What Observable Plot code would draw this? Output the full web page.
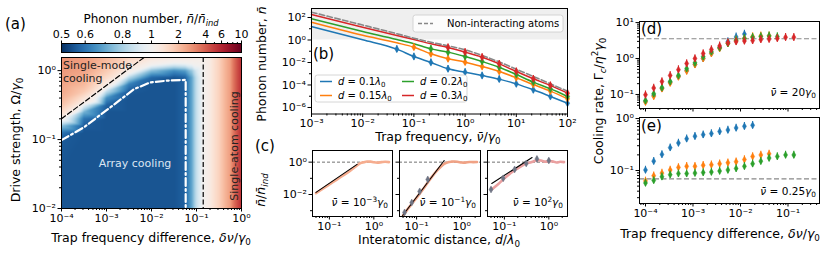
<!DOCTYPE html>
<html><head><meta charset="utf-8">
<script src="https://cdn.jsdelivr.net/npm/d3@7"></script>
<script src="https://cdn.jsdelivr.net/npm/@observablehq/plot@0.6"></script>
<style>
body{margin:0;background:#fff;}
#fig{position:relative;width:831px;height:255px;overflow:hidden;background:#fff;font-family:"DejaVu Sans",sans-serif;}
#fig svg{position:absolute;left:0;top:0;overflow:visible;}
</style></head><body><div id="fig"></div>
<script>
const W = 831, H = 255, FONT = "DejaVu Sans";
const COL = {blue: "#1f77b4", orange: "#ff7f0e", green: "#2ca02c", red: "#d62728", gray: "#888888"};

// ================= Panel (a): phonon number map =================
const aDnu = [1e-4, 3.16e-4, 1e-3, 3.16e-3, 0.01, 0.0316, 0.0562, 0.0794, 0.1, 0.141, 0.2, 0.316, 0.562, 1];
const aOmega = [0.01, 0.0316, 0.1, 0.126, 0.158, 0.2, 0.251, 0.316, 0.398, 0.501, 0.631, 0.794, 1, 1.26, 1.55];
const aRatio = [
  [0.55,0.55,0.55,0.55,0.55,0.55,0.57,0.70,0.85,1.00,1.2,1.65,2.6,5.5],
  [0.55,0.55,0.55,0.55,0.55,0.55,0.57,0.70,0.85,1.00,1.2,1.65,2.6,5.5],
  [0.56,0.55,0.55,0.55,0.55,0.55,0.57,0.70,0.85,1.00,1.2,1.65,2.6,5.5],
  [0.60,0.55,0.55,0.55,0.55,0.55,0.57,0.70,0.85,1.00,1.2,1.65,2.6,5.5],
  [0.75,0.56,0.55,0.55,0.55,0.55,0.57,0.70,0.85,1.00,1.2,1.65,2.6,5.5],
  [1.05,0.60,0.55,0.55,0.55,0.55,0.57,0.70,0.85,1.00,1.2,1.65,2.6,5.5],
  [1.50,0.72,0.55,0.55,0.55,0.55,0.57,0.70,0.85,1.00,1.2,1.65,2.6,5.5],
  [1.90,0.95,0.57,0.55,0.55,0.55,0.57,0.70,0.85,1.00,1.2,1.65,2.6,5.5],
  [2.20,1.35,0.65,0.55,0.55,0.55,0.57,0.70,0.85,1.00,1.2,1.65,2.6,5.5],
  [2.40,1.80,0.85,0.56,0.55,0.55,0.57,0.70,0.85,1.00,1.2,1.65,2.6,5.5],
  [2.50,2.10,1.15,0.62,0.55,0.55,0.57,0.70,0.85,1.00,1.2,1.65,2.6,5.5],
  [2.60,2.30,1.50,0.82,0.58,0.55,0.57,0.70,0.85,1.00,1.2,1.65,2.6,5.5],
  [2.70,2.50,1.80,1.10,0.75,0.65,0.68,0.78,0.90,1.00,1.2,1.65,2.6,5.5],
  [2.80,2.60,2.00,1.40,1.05,0.95,0.97,1.00,1.02,1.05,1.2,1.65,2.6,5.5],
  [2.80,2.60,2.10,1.60,1.30,1.20,1.20,1.15,1.12,1.10,1.2,1.65,2.6,5.5]
];
const aBoundaryDnu = [1e-4, 3.16e-4, 1.23e-3, 4.07e-3, 9.5e-3, 0.0224, 0.0575, 0.0575];
const aBoundaryOmega = [0.098, 0.151, 0.295, 0.537, 0.676, 0.716, 0.733, 0.01];
const aSingleModeDnu = [1e-4, 6.8e-3];
const aSingleModeOmega = [0.2, 1.55];
const aSingleAtomDnu = 0.141;
const cbTicks = [0.5, 0.6, 0.8, 1, 2, 4, 6, 10];
const cbMinor = [0.7, 0.9, 3, 5, 7, 8, 9];

// ================= Panel (b): phonon number vs trap frequency =================
const bFreq = [1e-3, 1e-2, 0.0464, 0.1, 0.215, 0.464, 1, 2.15, 4.64, 10, 21.5, 46.4, 100];
const bLogFree = [2.47, 1.33, 0.56, 0.16, -0.2, -0.52, -0.87, -1.38, -1.95, -2.6, -3.24, -3.9, -4.55];
const bLogD010 = [1.2, 0.02, -0.81, -1.47, -2.0, -2.56, -2.86, -3.16, -3.48, -3.9, -4.43, -5.02, -5.62];
const bLogD015 = [1.58, 0.42, -0.25, -0.64, -1.23, -1.67, -1.97, -2.36, -2.8, -3.36, -3.96, -4.55, -5.23];
const bLogD020 = [1.88, 0.76, 0.05, -0.33, -0.79, -1.08, -1.47, -1.91, -2.42, -3.07, -3.75, -4.34, -5.02];
const bLogD030 = [2.27, 1.13, 0.4, 0.04, -0.34, -0.66, -1.08, -1.53, -2.12, -2.8, -3.45, -4.04, -4.73];
const bLabels = ["0.1", "0.15", "0.2", "0.3"];
const bMarkFrom = [0.0464, 0.1, 0.215, 0.464];
const bShadeAbove = 1;

// ================= Panel (c): ratio vs distance =================
const cDist = [0.05, 0.07, 0.1, 0.15, 0.2, 0.3, 0.4, 0.5, 0.6, 0.7, 0.85, 1.0, 1.2, 1.5, 1.8, 2.2];
const cLogSim1 = [-1.92, -1.66, -1.38, -1.06, -0.84, -0.52, -0.25, -0.06, 0.0, 0.04, 0.03, -0.01, -0.03, 0.0, 0.02, 0.0];
const cLogSim2 = [-3.3, -2.75, -2.2, -1.55, -1.05, -0.45, -0.12, 0.0, 0.03, 0.04, 0.01, -0.02, -0.03, 0.01, 0.0, 0.01];
const cLogSim3 = [-1.72, -1.4, -1.0, -0.6, -0.38, -0.1, 0.0, 0.08, 0.12, 0.08, 0.03, 0.06, 0.05, -0.02, 0.02, 0.0];
const cFitDist = [[0.05, 0.42], [0.049, 0.41], [0.052, 0.42]];
const cFitLog = [[-1.87, -0.14], [-3.3, 0.1], [-1.32, 0.29]];
const cMarkDist2 = [0.054, 0.078, 0.117, 0.177];
const cMarkLog2 = [-3.11, -2.5, -1.81, -1.07];
const cMarkDist3 = [0.05, 0.094, 0.17, 0.31, 0.54, 1.0];
const cMarkLog3 = [-1.69, -1.0, -0.45, -0.08, 0.2, 0.1];
const cNuLabels = [["−3"], ["−1"], ["2"]];

// ================= Panels (d), (e): cooling rate =================
const deDnu = [1.0e-4, 1.49e-4, 2.22e-4, 3.31e-4, 4.94e-4, 7.36e-4, 1.10e-3, 1.64e-3, 2.44e-3, 3.64e-3,
               5.43e-3, 8.09e-3, 1.21e-2, 1.80e-2, 2.68e-2, 4.0e-2, 5.96e-2, 8.89e-2, 0.1326];
const dLogBlue = [-1.19, -1.02, -0.83, -0.66, -0.5, -0.33, -0.16, 0.0, 0.15, 0.3, 0.47, 0.6, 0.68];
const dLogOrange = [-1.21, -1.05, -0.84, -0.68, -0.51, -0.35, -0.17, 0.0, 0.14, 0.28, 0.42, 0.51, 0.56, 0.61, 0.63, 0.63];
const dLogGreen = [-1.17, -0.98, -0.81, -0.64, -0.47, -0.28, -0.12, 0.05, 0.19, 0.3, 0.42, 0.51, 0.56, 0.59, 0.61, 0.63, 0.61];
const dLogRed = [-1.01, -0.82, -0.64, -0.47, -0.31, -0.14, 0.0, 0.14, 0.25, 0.35, 0.44, 0.47, 0.49, 0.5, 0.53, 0.54, 0.56, 0.59, 0.59];
const dLevel = 3.55;
const eLogBlue = [-0.99, -0.82, -0.69, -0.56, -0.47, -0.39, -0.34, -0.31, -0.29, -0.25, -0.22, -0.18, -0.15, -0.13];
const eLogOrange = [-1.2, -1.1, -1.05, -0.99, -0.94, -0.92, -0.92, -0.9, -0.89, -0.87, -0.85, -0.83, -0.79, -0.73, -0.7, -0.68];
const eLogGreen = [-1.24, -1.19, -1.12, -1.08, -1.06, -1.06, -1.05, -1.04, -1.03, -1.01, -0.99, -0.96, -0.92, -0.87, -0.82, -0.76, -0.73, -0.7, -0.7];
const eLevel = 0.069;

// ================= helpers =================
const SUP = {"-": "⁻", "0": "⁰", "1": "¹", "2": "²", "3": "³", "4": "⁴", "5": "⁵", "6": "⁶", "7": "⁷", "8": "⁸", "9": "⁹"};
const pow10 = v => "10" + String(Math.round(Math.log10(v))).split("").map(c => SUP[c]).join("");
const blank = () => "";
function decades(lo, hi, step = 1) { const o = []; for (let e = Math.ceil(Math.log10(lo) - 1e-9); e <= Math.log10(hi) + 1e-9; e += step) o.push(10 ** e); return o; }
function minors(lo, hi) { const o = []; for (let e = Math.floor(Math.log10(lo)); e <= Math.ceil(Math.log10(hi)); e++) for (let m = 2; m <= 9; m++) { const v = m * 10 ** e; if (v >= lo && v <= hi) o.push(v); } return o; }

function P(fr, opts) {
  const [x0, x1, y0, y1] = fr;
  return Plot.plot({width: W, height: H, marginLeft: x0, marginRight: W - x1, marginTop: y0, marginBottom: H - y1,
    style: {fontFamily: FONT, fontSize: "11px", background: "transparent", overflow: "visible", color: "#000"}, ...opts});
}
function axes({xMaj, xMin, yMaj, yMin, xLab = true, yLab = true}) {
  return [
    Plot.axisX(xMin, {tickSize: 2, tickFormat: blank, label: null}),
    Plot.axisX(xMaj, {tickSize: 3.5, tickPadding: 2, tickFormat: xLab ? pow10 : blank, label: null}),
    Plot.axisY(yMin, {tickSize: 2, tickFormat: blank, label: null}),
    Plot.axisY(yMaj, {tickSize: 3.5, tickPadding: 2, tickFormat: yLab ? pow10 : blank, label: null})
  ];
}
const fig = document.getElementById("fig");
const add = p => fig.appendChild(p);

// ================= Panel (a) =================
const colorA = {type: "diverging-log", domain: [0.5, 10], pivot: 1, symmetric: false, interpolate: t => d3.interpolateRdBu(1 - t)};
const heatCells = [];
aOmega.forEach((om, i) => aDnu.forEach((dn, j) => heatCells.push({dnu: dn, omega: om, ratio: aRatio[i][j]})));
const aXd = [1e-4, 1], aYd = [0.01, 1.55];
add(P([61, 241, 57, 208], {
  x: {type: "log", domain: aXd}, y: {type: "log", domain: aYd}, color: colorA,
  marks: [
    Plot.raster(heatCells, {x: "dnu", y: "omega", fill: "ratio", interpolate: "barycentric", x1: aXd[0], x2: aXd[1], y1: aYd[0], y2: aYd[1]}),
    Plot.line(aBoundaryDnu.map((d, i) => ({d, o: aBoundaryOmega[i]})), {x: "d", y: "o", stroke: "white", strokeWidth: 2.2, strokeDasharray: "8,3,2,3"}),
    Plot.line(aSingleModeDnu.map((d, i) => ({d, o: aSingleModeOmega[i]})), {x: "d", y: "o", stroke: "black", strokeWidth: 1.2, strokeDasharray: "5,2.5"}),
    Plot.ruleX([aSingleAtomDnu], {stroke: "black", strokeWidth: 1.2, strokeDasharray: "5,2.5"}),
    Plot.frame({stroke: "#000"}),
    ...axes({xMaj: decades(...aXd), xMin: minors(...aXd), yMaj: decades(...aYd), yMin: minors(...aYd)})
  ]
}));
// colorbar
const cbPos = v => v < 1 ? Math.log2(v) : Math.log10(v);
const cbVal = p => p < 0 ? 2 ** p : 10 ** p;
add(P([61, 241, 43, 52], {
  x: {domain: [-1, 1]}, y: {domain: [0, 1], axis: null}, color: colorA,
  marks: [
    Plot.raster({fill: (x, y) => cbVal(x), x1: -1, x2: 1, y1: 0, y2: 1}),
    Plot.frame({stroke: "#000"}),
    Plot.axisX(cbMinor.map(cbPos), {anchor: "top", tickSize: 2, tickFormat: blank, label: null}),
    Plot.axisX(cbTicks.map(cbPos), {anchor: "top", tickSize: 3.5, tickPadding: 2, tickFormat: p => d3.format(".2~g")(cbVal(p)), label: null})
  ]
}));

// ================= Panel (b) =================
const bXd = [1e-3, 1e2], bYd = [10 ** -6.58, 10 ** 2.8];
const bCols = [COL.blue, COL.orange, COL.green, COL.red];
const bAll = [bLogD010, bLogD015, bLogD020, bLogD030];
const bRows = [];
bAll.forEach((arr, k) => arr.forEach((v, i) => bRows.push({f: bFreq[i], n: 10 ** v, k})));
const bFreeRows = bLogFree.map((v, i) => ({f: bFreq[i], n: 10 ** v}));
const bMarks = bRows.filter(r => r.f >= bMarkFrom[r.k] * 0.99);
const bErr = 2.0;
add(P([311, 567, 8, 113.5], {
  x: {type: "log", domain: bXd}, y: {type: "log", domain: bYd},
  marks: [
    Plot.rect([0], {x1: bXd[0], x2: bXd[1], y1: bShadeAbove, y2: bYd[1], fill: "#efefef"}),
    ...bAll.map((_, k) => Plot.line(bRows.filter(r => r.k === k), {x: "f", y: "n", stroke: bCols[k], strokeWidth: 1.5, curve: "monotone-x"})),
    Plot.line(bFreeRows, {x: "f", y: "n", stroke: COL.gray, strokeWidth: 1.6, strokeDasharray: "5.5,2.5", curve: "monotone-x"}),
    Plot.ruleX(bMarks, {x: "f", y1: d => d.n / bErr, y2: d => d.n * bErr, stroke: d => bCols[d.k], strokeWidth: 1.2}),
    Plot.dot(bMarks, {x: "f", y: "n", symbol: "diamond", r: 2.2, fill: d => bCols[d.k], stroke: d => bCols[d.k], strokeWidth: 0.5}),
    Plot.frame({stroke: "#000"}),
    ...axes({xMaj: decades(...bXd), xMin: minors(...bXd), yMaj: decades(1e-6, 1e2, 2), yMin: decades(1e-5, 10, 2)})
  ]
}));

// ================= Panel (c) =================
const cXd = [10 ** -1.38, 10 ** 0.42], cYd = [10 ** -3.36, 10 ** 0.72];
const cFrames = [[312, 392], [399, 480], [487, 567]];
const cSims = [cLogSim1, cLogSim2, cLogSim3];
const cSimCol = ["#f6ad8f", "#f0a285", "#eaa0a0"];
const cMarks = [[], cMarkDist2.map((d, i) => ({d, r: 10 ** cMarkLog2[i]})), cMarkDist3.map((d, i) => ({d, r: 10 ** cMarkLog3[i]}))];
cFrames.forEach(([x0, x1], k) => {
  add(P([x0, x1, 150, 216], {
    x: {type: "log", domain: cXd}, y: {type: "log", domain: cYd},
    marks: [
      Plot.ruleY([1], {stroke: "#333", strokeWidth: 0.7, strokeDasharray: "3,2"}),
      Plot.line(cSims[k].map((v, i) => ({d: cDist[i], r: 10 ** v})), {x: "d", y: "r", stroke: cSimCol[k], strokeWidth: 2.6, curve: "monotone-x"}),
      Plot.line(cFitDist[k].map((d, i) => ({d, r: 10 ** cFitLog[k][i]})), {x: "d", y: "r", stroke: "black", strokeWidth: 1.1}),
      Plot.ruleX(cMarks[k], {x: "d", y1: d => d.r / 1.35, y2: d => d.r * 1.35, stroke: "#6f7585", strokeWidth: 1.1}),
      Plot.dot(cMarks[k], {x: "d", y: "r", symbol: "diamond", r: 2.1, fill: "#6f7585", stroke: "#6f7585", strokeWidth: 0.5}),
      Plot.frame({stroke: "#000"}),
      ...axes({xMaj: decades(...cXd), xMin: minors(...cXd), yMaj: [1e-2, 1], yMin: [1e-3, 1e-1], yLab: k === 0})
    ]
  }));
});

// ================= Panels (d) and (e) =================
const deXd = [10 ** -4.126, 10 ** -0.337];
function ratePanel(fr, yd, series, level, err, yMaj, xLab) {
  const marks = [Plot.ruleY([level], {stroke: COL.gray, strokeWidth: 1.2, strokeDasharray: "5,2.5"})];
  series.forEach(([arr, col]) => {
    const rows = arr.map((v, i) => ({x: deDnu[i], y: 10 ** v}));
    marks.push(Plot.ruleX(rows, {x: "x", y1: d => d.y / err, y2: d => d.y * err, stroke: col, strokeWidth: 1.1}));
    marks.push(Plot.dot(rows, {x: "x", y: "y", symbol: "diamond", r: 2.1, fill: col, stroke: col, strokeWidth: 0.5}));
  });
  marks.push(Plot.frame({stroke: "#000"}));
  marks.push(...axes({xMaj: decades(...deXd), xMin: minors(...deXd), yMaj, yMin: minors(...yd), xLab}));
  add(P(fr, {x: {type: "log", domain: deXd}, y: {type: "log", domain: yd}, marks}));
}
ratePanel([639, 819, 21, 108], [10 ** -1.39, 10 ** 1.03],
  [[dLogBlue, COL.blue], [dLogOrange, COL.orange], [dLogGreen, COL.green], [dLogRed, COL.red]], dLevel, 1.28, [0.1, 1, 10], false);
ratePanel([639, 819, 117, 203], [10 ** -1.635, 10 ** 0.02],
  [[eLogBlue, COL.blue], [eLogOrange, COL.orange], [eLogGreen, COL.green]], eLevel, 1.18, [0.1, 1], true);

// ================= text overlay =================
const ov = d3.create("svg").attr("width", W).attr("height", H).attr("font-family", FONT);
function rich(x, y, parts, {size = 12.5, anchor = "start", rotate = 0, fill = "#000"} = {}) {
  const t = ov.append("text").attr("transform", `translate(${x},${y})` + (rotate ? ` rotate(${rotate})` : ""))
    .attr("text-anchor", anchor).attr("font-size", size).attr("fill", fill);
  let shift = 0;
  for (const p of parts) {
    const [str, st = ""] = Array.isArray(p) ? p : [p];
    const ts = t.append("tspan").text(str);
    let target = 0, fs = size;
    if (st.includes("sup")) { target = -0.4 * size; fs = 0.7 * size; }
    else if (st.includes("sub")) { target = 0.22 * size; fs = 0.7 * size; }
    if (st.startsWith("i")) ts.attr("font-style", "italic");
    ts.attr("font-size", fs);
    if (target !== shift) ts.attr("dy", target - shift);
    shift = target;
  }
  return t;
}
const nbar = "n\u0304", nubar = "\u03bd\u0304";
// panel a
rich(5, 29, ["(a)"], {size: 15});
rich(151, 23, ["Phonon number, ", [nbar, "i"], "/", [nbar, "i"], ["ind", "isub"]], {size: 12, anchor: "middle"});
rich(20, 140, ["Drive strength, ", "Ω", "/", ["γ", "i"], ["0", "sub"]], {anchor: "middle", rotate: -90});
rich(151, 242, ["Trap frequency difference, ", ["δν", "i"], "/", ["γ", "i"], ["0", "sub"]], {anchor: "middle"});
rich(63, 69, ["Single-mode"], {size: 11, fill: "#222"});
rich(63, 82, ["cooling"], {size: 11, fill: "#222"});
rich(135, 167, ["Array cooling"], {size: 11, anchor: "middle", fill: "#dde6f2"});
rich(238, 146, ["Single-atom cooling"], {size: 11, anchor: "middle", rotate: -90, fill: "#222"});
// panel b
rich(313, 59, ["(b)"], {size: 15});
rich(266, 64, ["Phonon number, ", [nbar, "i"]], {anchor: "middle", rotate: -90});
rich(438, 141, ["Trap frequency, ", [nubar, "i"], "/", ["γ", "i"], ["0", "sub"]], {anchor: "middle"});
function legendBox(x, y, w, h) {
  ov.append("rect").attr("x", x).attr("y", y).attr("width", w).attr("height", h).attr("rx", 2.5)
    .attr("fill", "white").attr("fill-opacity", 0.8).attr("stroke", "#cccccc").attr("stroke-width", 0.8);
}
function legendLine(x1, x2, y, col, dash) {
  const l = ov.append("line").attr("x1", x1).attr("x2", x2).attr("y1", y).attr("y2", y).attr("stroke", col).attr("stroke-width", 1.5);
  if (dash) l.attr("stroke-dasharray", dash);
}
legendBox(413, 15, 150, 17);
legendLine(418, 433, 23.5, COL.gray, "4,2");
rich(447, 27, ["Non-interacting atoms"], {size: 10});
legendBox(315, 75, 152, 27);
const legPos = [[320, 81.5], [320, 95.5], [402, 81.5], [402, 95.5]];
bLabels.forEach((lab, k) => {
  const [lx, ly] = legPos[k];
  legendLine(lx, lx + 12, ly, bCols[k]);
  rich(lx + 18, ly + 3.5, [["d", "i"], " = " + lab, ["λ", "i"], ["0", "sub"]], {size: 10});
});
// panel c
rich(255, 151, ["(c)"], {size: 15});
rich(265, 190, [[nbar, "i"], "/", [nbar, "i"], ["ind", "isub"]], {anchor: "middle", rotate: -90});
rich(439, 244, ["Interatomic distance, ", ["d", "i"], "/", ["λ", "i"], ["0", "sub"]], {anchor: "middle"});
cFrames.forEach(([x0, x1], k) => {
  rich(x1 - 4, 206, [[nubar, "i"], " = 10", [cNuLabels[k][0], "sup"], ["γ", "i"], ["0", "sub"]], {size: 10.5, anchor: "end"});
});
// panels d, e
rich(641, 34, ["(d)"], {size: 15});
rich(641, 131, ["(e)"], {size: 15});
rich(816, 96, [[nubar, "i"], " = 20", ["γ", "i"], ["0", "sub"]], {size: 10.5, anchor: "end"});
rich(816, 195, [[nubar, "i"], " = 0.25", ["γ", "i"], ["0", "sub"]], {size: 10.5, anchor: "end"});
rich(603, 101, ["Cooling rate, ", "Γ", ["c", "isub"], "/", ["η", "i"], ["2", "sup"], ["γ", "i"], ["0", "sub"]], {anchor: "middle", rotate: -90});
rich(720, 238, ["Trap frequency difference, ", ["δν", "i"], "/", ["γ", "i"], ["0", "sub"]], {anchor: "middle"});
fig.appendChild(ov.node());
</script></body></html>
